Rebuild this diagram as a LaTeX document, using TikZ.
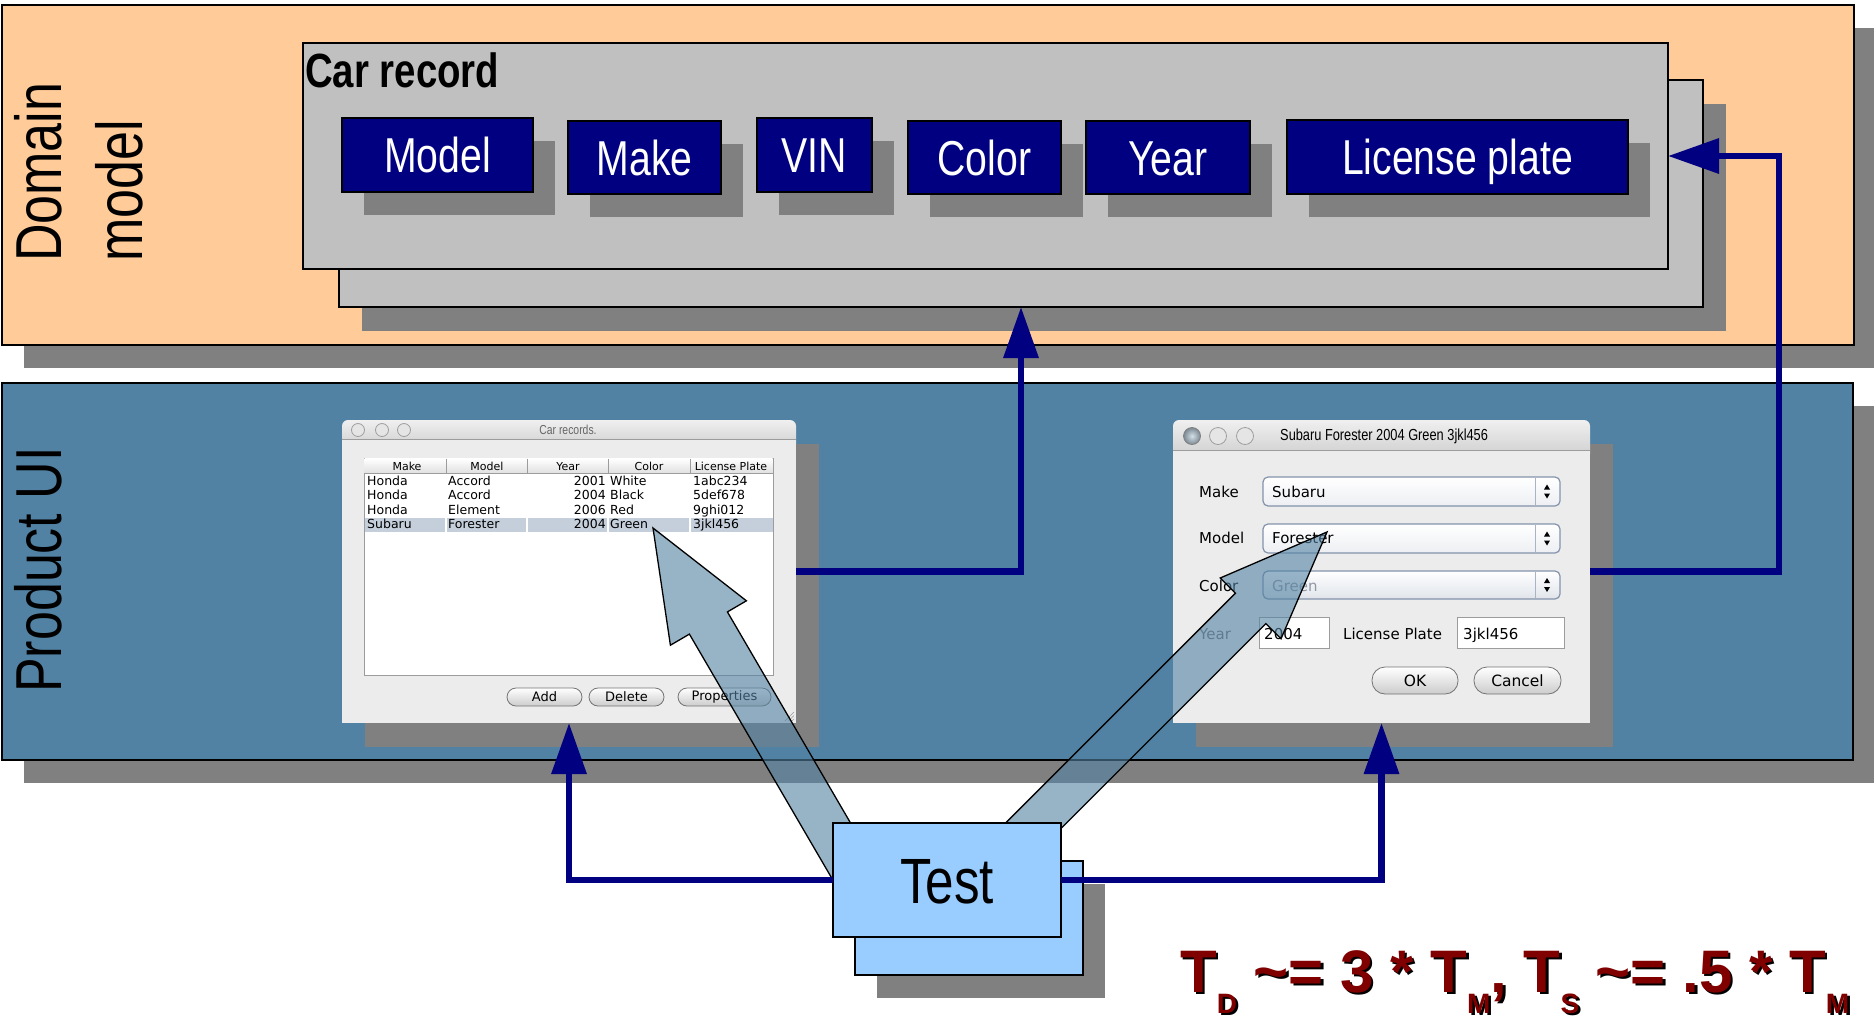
\documentclass[tikz,border=0pt]{standalone}
\usepackage{fontspec}
\setmainfont{Liberation Sans}
\newfontfamily\nar[FakeStretch=0.8]{Liberation Sans}
\newfontfamily\uifont{DejaVu Sans}
\usetikzlibrary{arrows.meta,shadows,calc}

\definecolor{peach}{HTML}{FFCC99}
\definecolor{uiblue}{HTML}{5282A3}
\definecolor{shadowgray}{HTML}{808080}
\definecolor{recgray}{HTML}{C0C0C0}
\definecolor{navyfill}{HTML}{000080}
\definecolor{testblue}{HTML}{99CCFF}
\definecolor{formred}{HTML}{800000}
\definecolor{winbg}{HTML}{ECECEC}
\definecolor{selrow}{HTML}{C5CEDB}
\definecolor{uiborder}{HTML}{9C9C9C}
\definecolor{comboedge}{HTML}{8393AB}

% subscript of the cost formula
\newcommand\fsub[1]{\raisebox{-21pt}{\fontsize{28}{28}\selectfont #1}}
\newcommand\tdformula{T\fsub{D} \textasciitilde= 3 * T\fsub{M}, T\fsub{S} \textasciitilde= .5 * T\fsub{M}}

\begin{document}
\begin{tikzpicture}[x=1pt, y=-1pt,
  box/.style={rectangle, inner sep=0pt, outer sep=0pt},
  shadowA/.style={drop shadow={shadow xshift=22pt, shadow yshift=-23pt, fill=shadowgray, opacity=1}},
  shadowB/.style={drop shadow={shadow xshift=23pt, shadow yshift=-24pt, fill=shadowgray, opacity=1}},
  panelbox/.style={box, draw=black, line width=2pt, shadowA},
  recbox/.style={box, draw=black, line width=1.5pt, fill=recgray},
  fieldbox/.style={box, draw=black, line width=2pt, fill=navyfill, text=white,
    font=\nar\fontsize{49}{49}\selectfont, text height=35pt, text depth=0pt, shadowA},
  sidelabel/.style={rotate=90, anchor=base west, inner sep=0pt, font=\nar\fontsize{65}{65}\selectfont},
  testbox/.style={box, draw=black, line width=1.5pt, fill=testblue},
  winframe/.style={box, shadowB},
  link/.style={draw=navyfill, line width=6.5pt, line join=miter, -{Triangle[length=51pt, width=34pt]}},
  pointer/.style={draw=black, line width=1.3pt, line join=miter, fill=uiblue, fill opacity=0.6},
  cell/.style={anchor=base west, inner sep=0pt, font=\uifont\fontsize{12.5}{12.5}\selectfont},
  hdr/.style={anchor=base, inner sep=0pt, font=\uifont\fontsize{11}{11}\selectfont},
  uilabel/.style={anchor=base west, inner sep=0pt, font=\uifont\fontsize{15}{15}\selectfont},
  pill/.style={top color=white, bottom color=white!80!black, draw=white!45!black, line width=0.8pt},
  combo/.style={top color=white, bottom color=white!85!comboedge, draw=comboedge, line width=1.2pt, rounded corners=5pt},
  field/.style={fill=white, draw=uiborder, line width=0.8pt},
  light/.style={fill=white!90!black, draw=white!62!black, line width=0.8pt}
]
\useasboundingbox (0,0) rectangle (1874,1018);
\fill[white] (0,0) rectangle (1874,1018);

% ---------- the two layers ----------
\node[panelbox, fill=peach, minimum width=1852pt, minimum height=340pt] (domain) at (928,175) {};
\node[panelbox, fill=uiblue, minimum width=1851pt, minimum height=377pt] (product) at (927.5,571.5) {};

\node[sidelabel] (dlabel) at (61,262) {Domain};
\node[sidelabel] (mlabel) at (142,262) {model};
\node[sidelabel] (plabel) at (61,693) {Product UI};

% ---------- car record stack ----------
\node[recbox, drop shadow={shadow xshift=23pt, shadow yshift=-24pt, fill=shadowgray, opacity=1},
      minimum width=1364pt, minimum height=227pt] (recback) at (1021,193.5) {};
\node[recbox, minimum width=1365pt, minimum height=226pt] (recfront) at (985.5,156) {};
\node[anchor=base west, inner sep=0pt, font=\nar\bfseries\fontsize{48}{48}\selectfont] (rectitle) at (305,87) {Car record};

\node[fieldbox, minimum width=191pt, minimum height=74pt] (fmodel) at (437.5,155) {Model};
\node[fieldbox, minimum width=153pt, minimum height=73pt] (fmake) at (644.5,157.5) {Make};
\node[fieldbox, minimum width=115pt, minimum height=74pt] (fvin) at (814.5,155) {VIN};
\node[fieldbox, minimum width=153pt, minimum height=73pt] (fcolor) at (984.5,157.5) {Color};
\node[fieldbox, minimum width=164pt, minimum height=73pt] (fyear) at (1168,157.5) {Year};
\node[fieldbox, minimum width=341pt, minimum height=74pt] (fplate) at (1457.5,157) {License plate};

% ---------- list window ----------
\node[winframe, minimum width=454pt, minimum height=303pt] (carwin) at (569,571.5) {};
\shade[top color=white!94!black, bottom color=white!80!black, rounded corners=6pt] (342,420) rectangle (796,450);
\fill[winbg] (342,439) rectangle (796,723);
\draw[uiborder, line width=0.8pt] (342,439) -- (796,439);
\foreach \cx in {358,382,404} \draw[light] (\cx,430) circle[radius=6.5pt];
\node[inner sep=0pt, text=white!40!black, font=\nar\fontsize{13}{13}\selectfont] (cartitle) at (568,430) {Car records.};

\draw[fill=white, draw=uiborder, line width=0.8pt] (364,458) rectangle (773,675);
\shade[top color=white, bottom color=white!88!black] (364.5,458.5) rectangle (772.5,473);
\draw[uiborder, line width=0.6pt] (364,473) -- (773,473);
\foreach \cx in {446,527,608,690} \draw[uiborder, line width=0.6pt] (\cx,458.5) -- (\cx,473);
\fill[selrow] (364.5,518) rectangle (772.5,531.5);
\foreach \cx in {446,527,608,690} \draw[white, line width=1.5pt] (\cx,518) -- (\cx,531.5);

\node[hdr] (hmake) at (407,470) {Make};
\node[hdr] (hmodel) at (487,470) {Model};
\node[hdr] (hyear) at (568,470) {Year};
\node[hdr] (hcolor) at (649,470) {Color};
\node[hdr] (hplate) at (731,470) {License Plate};

\foreach \by/\mk/\md/\yr/\cl/\pl [count=\i] in
   {485.5/Honda/Accord/2001/White/1abc234,
    499.5/Honda/Accord/2004/Black/5def678,
    514.5/Honda/Element/2006/Red/9ghi012,
    528.5/Subaru/Forester/2004/Green/3jkl456}{
  \node[cell] (rmk\i) at (367,\by) {\mk};
  \node[cell] (rmd\i) at (448,\by) {\md};
  \node[cell, anchor=base east] (ryr\i) at (606,\by) {\yr};
  \node[cell] (rcl\i) at (610,\by) {\cl};
  \node[cell] (rpl\i) at (693,\by) {\pl};
}

\shadedraw[pill, rounded corners=9pt] (507,688) rectangle (582,706);
\shadedraw[pill, rounded corners=9pt] (589,688) rectangle (664,706);
\shadedraw[pill, rounded corners=9pt] (678,688) rectangle (771,706);
\node[inner sep=0pt, font=\uifont\fontsize{13}{13}\selectfont] (badd) at (544.5,697) {Add};
\node[inner sep=0pt, font=\uifont\fontsize{13}{13}\selectfont] (bdel) at (626.5,697) {Delete};
\node[inner sep=0pt, font=\uifont\fontsize{13}{13}\selectfont] (bprop) at (724.5,697) {Properties};
\draw[white!60!black, line width=0.6pt] (785,721) -- (794,712) (788.5,721) -- (794,715.5) (792,721) -- (794,719);

% ---------- detail window ----------
\node[winframe, minimum width=417pt, minimum height=303pt] (subwin) at (1381.5,571.5) {};
\shade[top color=white!94!black, bottom color=white!80!black, rounded corners=6pt] (1173,420) rectangle (1590,460);
\fill[winbg] (1173,450) rectangle (1590,723);
\draw[uiborder, line width=0.8pt] (1173,450) -- (1590,450);
\shade[inner color=white!75!uiblue, outer color=black!55!uiblue!60!white] (1192,436) circle[radius=8.5pt];
\draw[black!50, line width=0.8pt] (1192,436) circle[radius=8.5pt];
\foreach \cx in {1218,1245} \draw[light] (\cx,436) circle[radius=8.5pt];
\node[anchor=west, inner sep=0pt, font=\nar\fontsize{16}{16}\selectfont] (subtitle) at (1280,436) {Subaru Forester 2004 Green 3jkl456};

\node[uilabel] (lmake) at (1199,497.5) {Make};
\node[uilabel] (lmodel) at (1199,543.5) {Model};
\node[uilabel] (lcolor) at (1199,591) {Color};
\node[uilabel, text=white!45!black] (lyear) at (1199,639.5) {Year};

\shadedraw[combo] (1263,477) rectangle (1560,506);
\shadedraw[combo] (1263,524) rectangle (1560,553);
\shadedraw[combo, bottom color=white!75!comboedge] (1263,571) rectangle (1560,599);
\foreach \ct/\cb in {477/506,524/553,571/599}{
  \draw[comboedge!70, line width=0.8pt] (1535,\ct+1) -- (1535,\cb-1);
  \fill ({1544},{(\ct+\cb)/2-2}) -- ({1550},{(\ct+\cb)/2-2}) -- ({1547},{(\ct+\cb)/2-7}) -- cycle;
  \fill ({1544},{(\ct+\cb)/2+2}) -- ({1550},{(\ct+\cb)/2+2}) -- ({1547},{(\ct+\cb)/2+7}) -- cycle;
}
\node[uilabel] (vmake) at (1272,497.5) {Subaru};
\node[uilabel] (vmodel) at (1272,543.5) {Forester};
\node[uilabel, text=white!40!comboedge!80!black] (vcolor) at (1272,591) {Green};

\draw[field] (1259,617) rectangle (1329,648);
\draw[field] (1457,617) rectangle (1564,648);
\node[uilabel] (vyear) at (1264,639.5) {2004};
\node[uilabel] (lplate) at (1343,639.5) {License Plate};
\node[uilabel] (vplate) at (1463,639.5) {3jkl456};

\shadedraw[pill, rounded corners=13pt] (1372,667) rectangle (1458,694);
\shadedraw[pill, rounded corners=13pt] (1474,667) rectangle (1561,694);
\node[inner sep=0pt, font=\uifont\fontsize{15.5}{15.5}\selectfont] (bok) at (1415,680.5) {OK};
\node[inner sep=0pt, font=\uifont\fontsize{15.5}{15.5}\selectfont] (bcancel) at (1517.5,680.5) {Cancel};

% ---------- test stack (back sheet) ----------
\node[testbox, shadowA, minimum width=228pt, minimum height=114pt] (testback) at (969,918) {};

% ---------- pointers from the test into both windows ----------
\filldraw[pointer] (653,528) -- (746.4,600.8) -- (727.4,611.9) -- (888.7,888.4)
   -- (850.7,910.6) -- (689.4,634.1) -- (670.4,645.2) -- cycle;
\filldraw[pointer] (1327,532) -- (1281.0,638.8) -- (1265.8,623.6) -- (1020.5,868.9)
   -- (990.1,838.5) -- (1235.4,593.2) -- (1220.2,578.0) -- cycle;

% ---------- front test sheet ----------
\node[testbox, minimum width=228pt, minimum height=114pt,
      font=\nar\fontsize{64}{64}\selectfont, text height=46pt, text depth=0pt] (test) at (947,880) {Test};

% ---------- connectors ----------
\coordinate (lpbend) at (1779,156);
\draw[link] (carwin.east) -| (recback.south);
\draw[link] (subwin.east) -- (subwin.east -| lpbend) -- (lpbend) -- (recfront.east);
\draw[link] (test.west) -| (carwin.south);
\draw[link] (test.east) -| (subwin.south);

% ---------- cost formula ----------
\node[anchor=base west, inner sep=0pt, text=black, font=\bfseries\fontsize{60}{60}\selectfont] (formshade) at (1182.5,994.5) {\tdformula};
\node[anchor=base west, inner sep=0pt, text=formred, font=\bfseries\fontsize{60}{60}\selectfont] (formula) at (1180,992) {\tdformula};
\end{tikzpicture}
\end{document}
